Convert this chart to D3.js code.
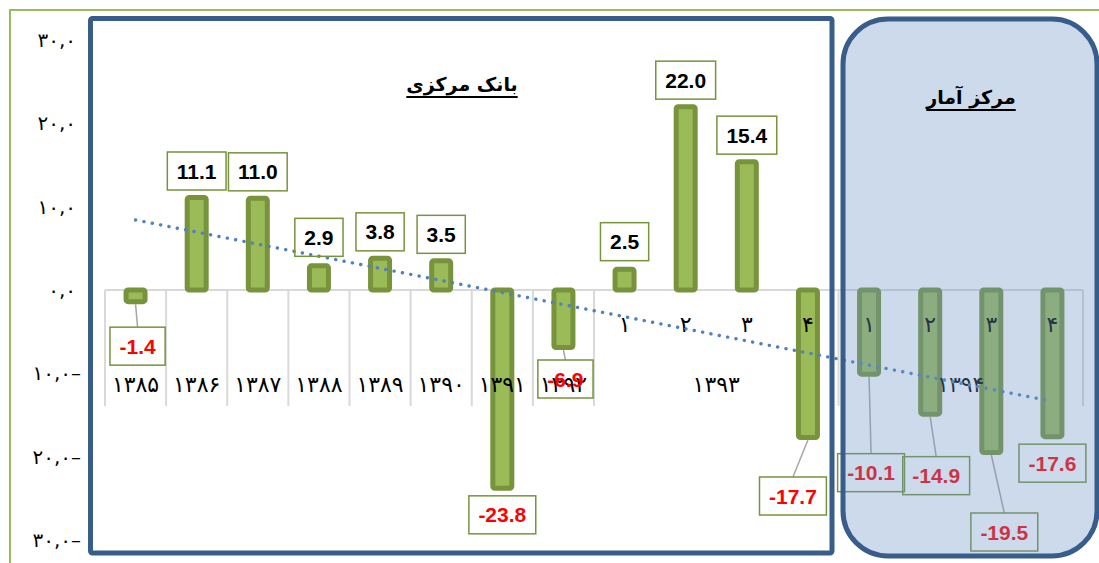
<!DOCTYPE html>
<html>
<head>
<meta charset="utf-8">
<script src="https://cdn.jsdelivr.net/npm/d3@7"></script>
<style>
  html, body { margin: 0; padding: 0; background: #fff; }
  svg { display: block; }
</style>
</head>
<body>
<svg id="chart" width="1099" height="563"></svg>
<script>
// chart data
const years = ["۱۳۸۵", "۱۳۸۶", "۱۳۸۷", "۱۳۸۸", "۱۳۸۹", "۱۳۹۰", "۱۳۹۱", "۱۳۹۲",
               "۱۳۹۳", "۱۳۹۳", "۱۳۹۳", "۱۳۹۳", "۱۳۹۴", "۱۳۹۴", "۱۳۹۴", "۱۳۹۴"];
const quarters = ["", "", "", "", "", "", "", "", "۱", "۲", "۳", "۴", "۱", "۲", "۳", "۴"];
const values = [-1.4, 11.1, 11.0, 2.9, 3.8, 3.5, -23.8, -6.9, 2.5, 22.0, 15.4, -17.7, -10.1, -14.9, -19.5, -17.6];
const yTicks = [-30, -20, -10, 0, 10, 20, 30];
const bankTitle = "بانک مرکزی";
const statTitle = "مرکز آمار";

// hand-moved label offsets (px), like the dragged labels in the original
const labelShift = [[2, 18], [0, 0], [0, 0], [0, -2], [0, 0], [0, 0], [0, 0], [2, 5],
                    [0, -1], [0, 0], [0, 0], [-15, 32], [2, 72], [6, 35], [13, 53], [0, 0]];

const svg = d3.select("#chart");
const W = 1099, H = 563;

// 1) scales
const x = d3.scaleBand().domain(d3.range(values.length)).range([105, 1083]).padding(0);
const y = d3.scaleLinear().domain([-30, 30]).range([540, 40]);
const cx = i => x(i) + x.bandwidth() / 2;
const barW = 19, barStroke = 5;

const toFa = s => String(s).replace(/[0-9]/g, d => "۰۱۲۳۴۵۶۷۸۹"[+d]);
const fmtTick = v => {
    const s = toFa(Math.abs(v).toFixed(1).replace(".", ","));
    return v < 0 ? s + "–" : s;
};

// 2) outer green frame
svg.append("rect")
    .attr("x", 10).attr("y", 10).attr("width", W).attr("height", H)
    .attr("fill", "none").attr("stroke", "#9BBB59").attr("stroke-width", 2);

// 3) value axis labels
const yAxis = svg.append("g").attr("transform", "translate(76,0)")
    .call(d3.axisLeft(y).tickValues(yTicks).tickSize(0).tickPadding(0).tickFormat(fmtTick));
yAxis.select(".domain").remove();
yAxis.selectAll("text")
    .attr("x", d => d < 0 ? 5 : 0)
    .attr("font-family", "DejaVu Sans")
    .attr("font-size", 20)
    .attr("fill", "#000")
    .attr("direction", "ltr")
    .attr("unicode-bidi", "bidi-override");

// 4) category axis: baseline + group separators
const groups = [];
years.forEach((yr, i) => {
    const last = groups[groups.length - 1];
    if (last && last.name === yr) last.end = i;
    else groups.push({ name: yr, start: i, end: i });
});

svg.append("line")
    .attr("x1", x.range()[0]).attr("x2", x.range()[1])
    .attr("y1", y(0)).attr("y2", y(0))
    .attr("stroke", "#D9D9D9").attr("stroke-width", 2);

const sepX = [x(0)].concat(groups.map(g => x(g.end) + x.bandwidth()));
svg.selectAll("line.sep").data(sepX).enter().append("line")
    .attr("class", "sep")
    .attr("x1", d => d).attr("x2", d => d)
    .attr("y1", y(0)).attr("y2", 406)
    .attr("stroke", "#D9D9D9").attr("stroke-width", 2);

// 5) bars
svg.selectAll("rect.bar").data(values).enter().append("rect")
    .attr("class", "bar")
    .attr("x", (d, i) => cx(i) - barW / 2)
    .attr("y", d => Math.min(y(d), y(0)))
    .attr("width", barW)
    .attr("height", d => Math.abs(y(d) - y(0)))
    .attr("rx", 2)
    .attr("fill", "#9BBB59")
    .attr("stroke", "#77933C")
    .attr("stroke-width", barStroke);

// 6) category labels (drawn over the bars)
const axisFont = { "font-family": "DejaVu Sans", "font-size": 22 };
svg.selectAll("text.year").data(groups).enter().append("text")
    .attr("class", "year")
    .attr("x", g => (x(g.start) + x(g.end) + x.bandwidth()) / 2)
    .attr("y", 392)
    .attr("text-anchor", "middle")
    .attr("font-family", axisFont["font-family"])
    .attr("font-size", axisFont["font-size"])
    .attr("direction", "ltr")
    .attr("unicode-bidi", "bidi-override")
    .text(g => g.name);

svg.selectAll("text.qtr").data(quarters.map((q, i) => ({ q, i })).filter(d => d.q)).enter()
    .append("text")
    .attr("class", "qtr")
    .attr("x", d => cx(d.i))
    .attr("y", 332)
    .attr("text-anchor", "middle")
    .attr("font-family", axisFont["font-family"])
    .attr("font-size", axisFont["font-size"])
    .text(d => d.q);

// 7) linear trend line (dotted)
const idx = d3.range(values.length);
const mx = d3.mean(idx), my = d3.mean(values);
const slope = d3.sum(idx, i => (i - mx) * (values[i] - my)) / d3.sum(idx, i => (i - mx) ** 2);
const trend = i => my + slope * (i - mx);
svg.append("path")
    .attr("d", d3.line().x(i => cx(i)).y(i => y(trend(i)))([0, values.length - 1]))
    .attr("fill", "none")
    .attr("stroke", "#4F81BD")
    .attr("stroke-width", 3.4)
    .attr("stroke-linecap", "round")
    .attr("stroke-dasharray", "0.1 8.4");

// 8) data labels
const boxH = 38, gap = 5;
values.forEach((v, i) => {
    const [dx, dy] = labelShift[i];
    const outer = y(v) + (v < 0 ? barStroke / 2 : -barStroke / 2);
    const bx = cx(i) + dx;
    const top = v < 0 ? outer + gap + dy : outer - gap - boxH + dy;
    const g = svg.append("g");
    if (v < 0 && dy > 0) {
        g.append("line")
            .attr("x1", cx(i)).attr("y1", outer)
            .attr("x2", bx).attr("y2", top)
            .attr("stroke", "#A6A6A6").attr("stroke-width", 1.5);
    }
    const rect = g.append("rect");
    const t = g.append("text")
        .attr("x", bx).attr("y", top + boxH / 2 + 7.5)
        .attr("text-anchor", "middle")
        .attr("font-family", "Liberation Sans, Arial, sans-serif")
        .attr("font-weight", "bold")
        .attr("font-size", 21)
        .attr("fill", v < 0 ? "#FF0000" : "#000")
        .text(v.toFixed(1));
    const w = t.node().getComputedTextLength() + 19;
    rect.attr("x", bx - w / 2).attr("y", top).attr("width", w).attr("height", boxH)
        .attr("fill", "none").attr("stroke", "#77933C").attr("stroke-width", 1.5);
});

// 9) section frames
svg.append("rect")
    .attr("x", 90.5).attr("y", 18.5).attr("width", 741.5).attr("height", 534.5)
    .attr("rx", 2)
    .attr("fill", "none").attr("stroke", "#385D8A").attr("stroke-width", 5);

const blue = { x: 843, y: 19, w: 254, h: 537, r: 45 };
svg.append("rect")
    .attr("x", blue.x).attr("y", blue.y).attr("width", blue.w).attr("height", blue.h)
    .attr("rx", blue.r)
    .attr("fill", "rgb(109,149,198)").attr("fill-opacity", 0.35);
svg.append("rect")
    .attr("x", blue.x).attr("y", blue.y).attr("width", blue.w).attr("height", blue.h)
    .attr("rx", blue.r)
    .attr("fill", "none").attr("stroke", "#385D8A").attr("stroke-width", 5);

// 10) section titles (underlined)
function title(txt, xc, base) {
    const t = svg.append("text")
        .attr("x", xc).attr("y", base)
        .attr("text-anchor", "middle")
        .attr("font-family", "DejaVu Sans")
        .attr("font-weight", "bold")
        .attr("font-size", 19)
        .attr("fill", "#000")
        .text(txt);
    const w = t.node().getComputedTextLength();
    svg.append("line")
        .attr("x1", xc - w / 2).attr("x2", xc + w / 2)
        .attr("y1", base + 6).attr("y2", base + 6)
        .attr("stroke", "#000").attr("stroke-width", 2);
}
title(bankTitle, 462, 91);
title(statTitle, 971, 104);
</script>
</body>
</html>
